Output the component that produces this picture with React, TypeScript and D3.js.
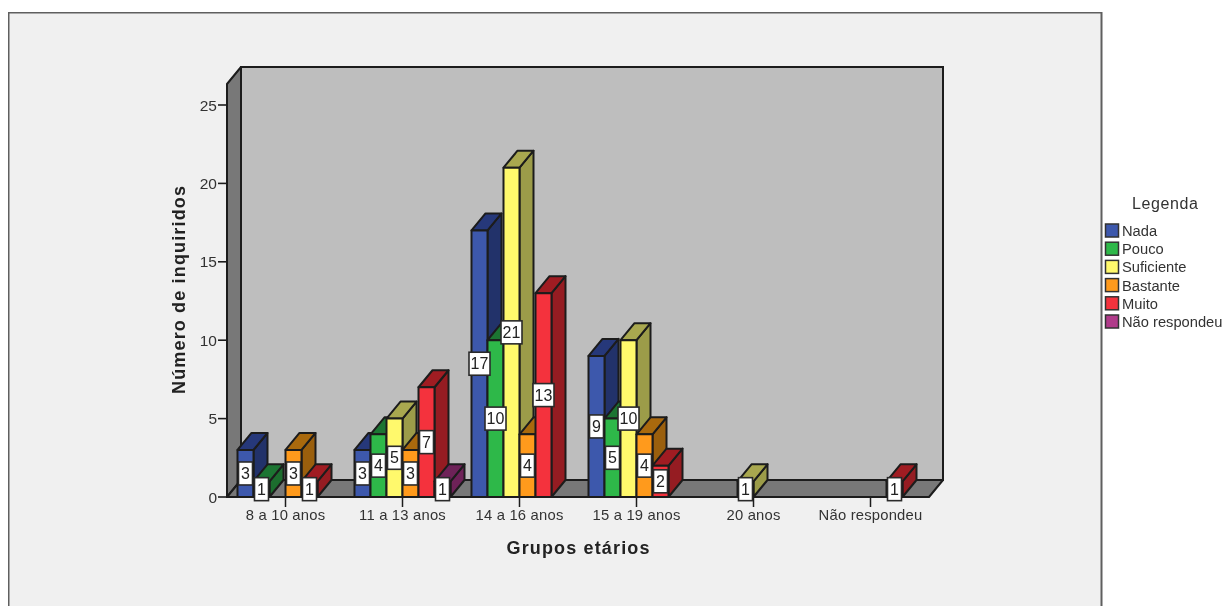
import * as d3 from "d3";

const groups = ["8 a 10 anos", "11 a 13 anos", "14 a 16 anos", "15 a 19 anos", "20 anos", "Não respondeu"];
const responses = ["Nada", "Pouco", "Suficiente", "Bastante", "Muito", "Não respondeu"];

const nada = [3, 3, 17, 9, 0, 0];
const pouco = [1, 4, 10, 5, 0, 0];
const suficiente = [0, 5, 21, 10, 1, 0];
const bastante = [3, 3, 4, 4, 0, 0];
const muito = [1, 7, 13, 2, 0, 1];
const naoRespondeu = [0, 1, 0, 0, 0, 0];
const seriesValues = [nada, pouco, suficiente, bastante, muito, naoRespondeu];

const frontColors = ["#3e58ac", "#2eb84a", "#fff96c", "#ff9a1e", "#f4333d", "#b03a8a"];
const topColors = ["#26377a", "#1d7433", "#a9a850", "#a9690f", "#a01c22", "#6e2158"];
const sideColors = ["#22316b", "#1a6e2e", "#9c9c48", "#9a5f10", "#951b20", "#6e2158"];

const W = 1224;
const H = 606;
const PLOT = { left: 227, right: 929, top: 84, bottom: 497 };
const DEPTH = { x: 14, y: -17 };
const BAR_W = 16;
const INK = "#1c1c1c";
const FONT = "'Liberation Sans', Arial, sans-serif";

const x = d3.scaleBand<string>().domain(groups).range([PLOT.left, PLOT.right]);
const y = d3.scaleLinear().domain([0, 25]).range([PLOT.bottom, 105]);
const inner = d3
  .scaleBand<string>()
  .domain(responses)
  .range([0, BAR_W * responses.length]);

const poly = d3.line<[number, number]>();

function barLeft(g: number, s: number) {
  const center = (x(groups[g]) ?? 0) + x.bandwidth() / 2;
  return center - (BAR_W * responses.length) / 2 + (inner(responses[s]) ?? 0);
}

function Bar({ g, s, value }: { g: number; s: number; value: number }) {
  const x0 = barLeft(g, s);
  const x1 = x0 + inner.bandwidth();
  const y0 = y(value);
  const y1 = y(0);
  const top: [number, number][] = [
    [x0, y0],
    [x0 + DEPTH.x, y0 + DEPTH.y],
    [x1 + DEPTH.x, y0 + DEPTH.y],
    [x1, y0],
  ];
  const side: [number, number][] = [
    [x1, y0],
    [x1 + DEPTH.x, y0 + DEPTH.y],
    [x1 + DEPTH.x, y1 + DEPTH.y],
    [x1, y1],
  ];
  return (
    <g stroke={INK} strokeWidth={2} strokeLinejoin="round">
      <path d={poly(side) + "Z"} fill={sideColors[s]} />
      <path d={poly(top) + "Z"} fill={topColors[s]} />
      <rect x={x0} y={y0} width={x1 - x0} height={y1 - y0} fill={frontColors[s]} />
    </g>
  );
}

function ValueLabel({ g, s, value }: { g: number; s: number; value: number }) {
  const cx = barLeft(g, s) + inner.bandwidth() / 2;
  const cy = y(value / 2);
  const w = value >= 10 ? 21 : 14;
  return (
    <g>
      <rect x={cx - w / 2} y={cy - 11.5} width={w} height={23} fill="#fff" stroke="#2a2a2a" strokeWidth={1.6} />
      <text x={cx} y={cy + 5.5} textAnchor="middle" fontSize={16} fill="#222" fontFamily={FONT}>
        {value}
      </text>
    </g>
  );
}

export default function App() {
  const cells = groups.flatMap((_, g) =>
    responses.map((_, s) => ({ g, s, value: seriesValues[s][g] })).filter((c) => c.value > 0),
  );
  const backL = PLOT.left + DEPTH.x;
  const backR = PLOT.right + DEPTH.x;
  const floorY = PLOT.bottom + DEPTH.y;
  const wallTop = PLOT.top + DEPTH.y;

  return (
    <svg width={W} height={H} style={{ position: "absolute", left: 0, top: 0 }}>
      <defs>
        <filter id="soft" x="0" y="0" width="100%" height="100%">
          <feGaussianBlur stdDeviation={0.45} />
        </filter>
      </defs>
      <rect x={0} y={0} width={W} height={H} fill="#fff" />
      <g filter="url(#soft)">
        <rect x={8.5} y={12.5} width={1093} height={H + 20} fill="#f0f0f0" stroke="#5e5e5e" strokeWidth={2} />

        <rect x={backL} y={wallTop} width={backR - backL} height={floorY - wallTop} fill="#bebebe" stroke={INK} strokeWidth={2} />
        <path
          d={poly([[PLOT.left, PLOT.top], [backL, wallTop], [backL, floorY], [PLOT.left, PLOT.bottom]]) + "Z"}
          fill="#787878"
          stroke={INK}
          strokeWidth={2}
          strokeLinejoin="round"
        />
        <path
          d={poly([[PLOT.left, PLOT.bottom], [backL, floorY], [backR, floorY], [PLOT.right, PLOT.bottom]]) + "Z"}
          fill="#787878"
          stroke={INK}
          strokeWidth={2}
          strokeLinejoin="round"
        />

        {y.ticks(5).map((t) => (
          <g key={t}>
            <line x1={218} x2={PLOT.left} y1={y(t)} y2={y(t)} stroke={INK} strokeWidth={1.6} />
            <text x={217} y={y(t) + 5.5} textAnchor="end" fontSize={15.5} fill="#333" fontFamily={FONT}>
              {t}
            </text>
          </g>
        ))}

        {groups.map((g) => {
          const cx = (x(g) ?? 0) + x.bandwidth() / 2;
          return (
            <g key={g}>
              <line x1={cx} x2={cx} y1={PLOT.bottom} y2={507} stroke={INK} strokeWidth={1.5} />
              <text x={cx} y={520} textAnchor="middle" fontSize={14.8} letterSpacing={0.2} fill="#333" fontFamily={FONT}>
                {g}
              </text>
            </g>
          );
        })}

        {cells.map((c) => (
          <Bar key={`${c.g}-${c.s}`} {...c} />
        ))}
        {cells.map((c) => (
          <ValueLabel key={`${c.g}-${c.s}`} {...c} />
        ))}

        <text
          transform="translate(185,290) rotate(-90)"
          textAnchor="middle"
          fontSize={18}
          fontWeight="bold"
          fill="#222"
          fontFamily={FONT}
          textLength={208}
        >
          Número de inquiridos
        </text>
        <text x={578} y={554} textAnchor="middle" fontSize={18} fontWeight="bold" fill="#222" fontFamily={FONT} textLength={143}>
          Grupos etários
        </text>

        <text x={1165} y={209} textAnchor="middle" fontSize={16} fill="#333" fontFamily={FONT} textLength={66}>
          Legenda
        </text>
        {responses.map((r, i) => {
          const ly = 224 + i * 18.2;
          return (
            <g key={r}>
              <rect x={1105.5} y={ly} width={13} height={13} fill={frontColors[i]} stroke="#333" strokeWidth={1.5} />
              <text x={1122} y={ly + 12} fontSize={14.7} fill="#333" fontFamily={FONT}>
                {r}
              </text>
            </g>
          );
        })}
      </g>
    </svg>
  );
}
